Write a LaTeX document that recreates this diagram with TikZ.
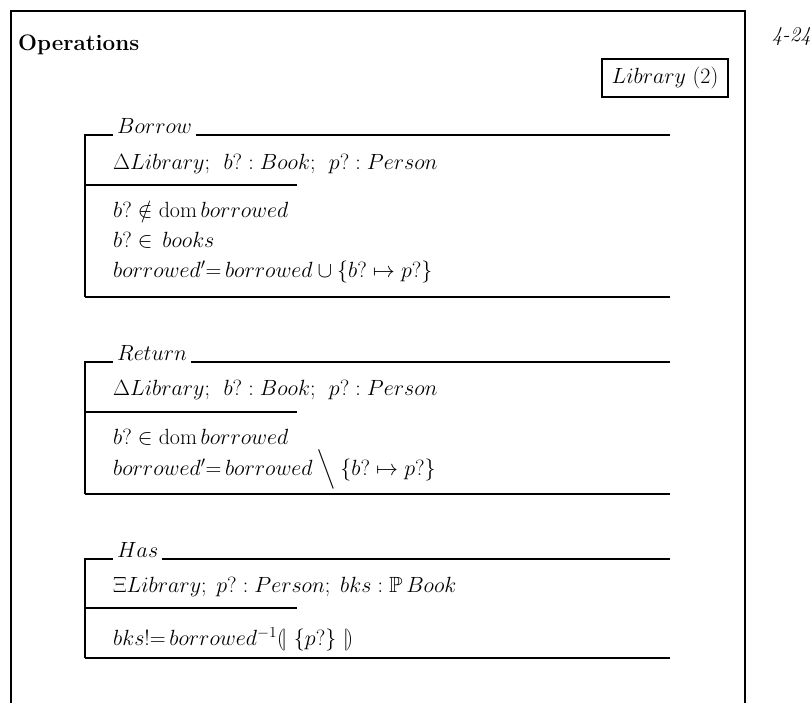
\RequirePackage{fix-cm}
\documentclass[tikz,border=0pt]{standalone}
\usepackage{amsmath,amssymb}
\begin{document}
\begin{tikzpicture}[x=1pt,y=-1pt,
  zline/.style={line width=2.5pt},
  zfont/.style={font=\fontsize{22}{26}\selectfont},
  ztext/.style={zfont,anchor=base west,inner sep=0pt},
  zname/.style={zfont,anchor=base west,inner xsep=4pt,inner ysep=0pt}]
\useasboundingbox (0,0) rectangle (810,702);

% outer page frame, open at the bottom
\coordinate (fbl) at (11,705);
\coordinate (ftl) at (11,11);
\coordinate (ftr) at (745,11);
\coordinate (fbr) at (745,705);
\draw[zline] (fbl) -- (ftl) -- (ftr) -- (fbr);

\node[anchor=west,inner sep=0pt,font=\fontsize{22.4}{26}\selectfont\bfseries] (title) at (18,45) {Operations};
\node[anchor=east,inner sep=0pt,font=\fontsize{21}{25}\selectfont\itshape] (page) at (811,37) {4-24};
\node[zfont,draw,line width=2.5pt,minimum width=126,minimum height=38,inner sep=0pt] (lib) at (665,78) {$Library\ (2)$};

% ---- Borrow ----
\node[zname] (bn) at (113,133) {$Borrow$};
\draw[zline] (85,297) -- (85,135) -- (bn.west |- 0,135);
\draw[zline] (bn.east |- 0,135) -- (670,135);
\draw[zline] (85,185) -- (297,185);
\draw[zline] (85,297) -- (670,297);
\node[ztext] (bd) at (113,169) {$\Delta Library;\;\, b? : Book;\;\, p? : Person$};
\node[ztext] (bp1) at (113,217) {$b? \notin \mathrm{dom}\, borrowed$};
\node[ztext] (bp2) at (113,247) {$b? \in\, books$};
\node[ztext] (bp3) at (113,277) {$borrowed'{=}\,borrowed \cup \{b? \mapsto p?\}$};

% ---- Return ----
\node[zname] (rn) at (113,360) {$Return$};
\draw[zline] (85,494) -- (85,362) -- (rn.west |- 0,362);
\draw[zline] (rn.east |- 0,362) -- (670,362);
\draw[zline] (85,412) -- (297,412);
\draw[zline] (85,494) -- (670,494);
\node[ztext] (rd) at (113,395) {$\Delta Library;\;\, b? : Book;\;\, p? : Person$};
\node[ztext] (rp1) at (113,444) {$b? \in \mathrm{dom}\, borrowed$};
\node[ztext] (rp2) at (113,475) {$borrowed'{=}\,borrowed \mathbin{\Big\backslash} \{b? \mapsto p?\}$};

% ---- Has ----
\node[zname] (hn) at (113,557) {$Has$};
\draw[zline] (85,658) -- (85,559) -- (hn.west |- 0,559);
\draw[zline] (hn.east |- 0,559) -- (670,559);
\draw[zline] (85,608) -- (297,608);
\draw[zline] (85,658) -- (670,658);
\node[ztext] (hd) at (113,592) {$\Xi Library;\; p? : Person;\; bks : \mathbb{P}\, Book$};
\node[ztext] (hp1) at (113,645) {$bks!{=}\,borrowed^{-1} (\!|\ \{p?\}\ |\!)$};
\end{tikzpicture}
\end{document}
